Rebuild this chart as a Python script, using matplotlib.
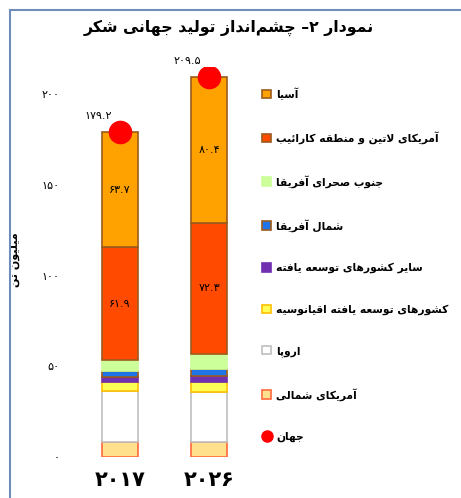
import re
import numpy as np
import matplotlib
matplotlib.use('Agg')
import matplotlib.pyplot as plt
from matplotlib.patches import Rectangle, Patch
from matplotlib.lines import Line2D

plt.rcParams['font.family'] = ['DejaVu Sans']

# ------------------------------------------------------------
# Data (million tonnes), stacked from the bottom up
# ------------------------------------------------------------
years = ['۲۰۱۷', '۲۰۲۶']
north_america = [8.3, 8.5]
europe = [28.0, 27.5]
oceania_dev = [5.2, 5.5]
other_dev = [2.8, 3.0]
north_africa = [3.0, 4.0]
sub_saharan = [6.3, 8.3]
latin_america = [61.9, 72.3]
asia = [63.7, 80.4]
world = [179.2, 209.5]

latin_labels = ['۶۱.۹', '۷۲.۳']
asia_labels = ['۶۳.۷', '۸۰.۴']
world_labels = ['۱۷۹.۲', '۲۰۹.۵']

yticks = [0, 50, 100, 150, 200]
ytick_labels = ['۰', '۵۰', '۱۰۰', '۱۵۰', '۲۰۰']

title = 'نمودار ۲– چشم\u200cانداز تولید جهانی شکر'
ylabel = 'میلیون تن'

# ------------------------------------------------------------
# Minimal Persian shaping: matplotlib has no complex text layout,
# so pick presentation forms by hand and reverse to visual order
# ------------------------------------------------------------
DUAL = {'ب': 0xFE8F, 'پ': 0xFB56, 'ت': 0xFE95, 'ث': 0xFE99, 'ج': 0xFE9D,
        'چ': 0xFB7A, 'ح': 0xFEA1, 'خ': 0xFEA5, 'س': 0xFEB1, 'ش': 0xFEB5,
        'ص': 0xFEB9, 'ض': 0xFEBD, 'ط': 0xFEC1, 'ظ': 0xFEC5, 'ع': 0xFEC9,
        'غ': 0xFECD, 'ف': 0xFED1, 'ق': 0xFED5, 'ک': 0xFB8E, 'گ': 0xFB92,
        'ل': 0xFEDD, 'م': 0xFEE1, 'ن': 0xFEE5, 'ه': 0xFEE9, 'ی': 0xFBFC,
        'ئ': 0xFE89}
RIGHT = {'ا': 0xFE8D, 'آ': 0xFE81, 'أ': 0xFE83, 'د': 0xFEA9, 'ذ': 0xFEAB,
         'ر': 0xFEAD, 'ز': 0xFEAF, 'ژ': 0xFB8A, 'و': 0xFEED}
LAM_ALEF = {'ا': 0xFEFB, 'آ': 0xFEF5, 'أ': 0xFEF7}


def shape(s):
    s = s.replace('ي', 'ی').replace('ك', 'ک')
    out = []
    prev = None
    i = 0
    while i < len(s):
        c = s[i]
        nxt = s[i + 1] if i + 1 < len(s) else ''
        pj = prev in DUAL
        if c == 'ل' and nxt in LAM_ALEF:
            out.append(chr(LAM_ALEF[nxt] + (1 if pj else 0)))
            prev = 'ا'
            i += 2
            continue
        if c in DUAL:
            nj = nxt in DUAL or nxt in RIGHT
            form = (3 if nj else 1) if pj else (2 if nj else 0)
            out.append(chr(DUAL[c] + form))
        elif c in RIGHT:
            out.append(chr(RIGHT[c] + (1 if pj else 0)))
        elif c != '\u200c':
            out.append(c)
        prev = c if (c in DUAL or c in RIGHT) else None
        i += 1
    runs = re.findall(r'[0-9۰-۹.]+|[^0-9۰-۹.]+', ''.join(out))
    return ''.join(r if re.match(r'[0-9۰-۹]', r) else r[::-1]
                   for r in reversed(runs))


# ------------------------------------------------------------
# Figure
# ------------------------------------------------------------
fig = plt.figure(figsize=(4.61, 4.98), dpi=100)
fig.patches.append(Rectangle((10 / 461, -0.1), 1.2, 1.08,
                             transform=fig.transFigure, fill=False,
                             edgecolor='#6F8DB8', linewidth=1.5))

ax = fig.add_axes([0.1475, 0.0823, 0.395, 0.7836])
x = np.arange(len(years))
w = 0.404

series = [
    (north_america, 'آمریکای شمالی', '#FFE08C', '#FF6A3D'),
    (europe, 'اروپا', '#FFFFFF', '#BFBFBF'),
    (oceania_dev, 'کشورهای توسعه یافته اقیانوسیه', '#FFFF55', '#FFC000'),
    (other_dev, 'سایر کشورهای توسعه یافته', '#7030B0', '#7030B0'),
    (north_africa, 'شمال آفریقا', '#1F75E8', '#9C5B1E'),
    (sub_saharan, 'جنوب صحرای آفریقا', '#CCFF99', '#CCFF99'),
    (latin_america, 'آمریکای لاتین و منطقه کارائیب', '#FF4A00', '#9C5B1E'),
    (asia, 'آسیا', '#FFA200', '#9C5B1E'),
]

bottom = np.zeros(len(years))
handles = []
for vals, name, fc, ec in series:
    ax.bar(x, vals, w, bottom=bottom, color=fc, edgecolor=ec, linewidth=1.2)
    handles.append(Patch(facecolor=fc, edgecolor=ec, linewidth=1.2,
                         label=shape(name)))
    bottom += np.array(vals)

# value labels inside the two big segments
lat_mid = np.array(north_america) + europe + oceania_dev + other_dev + \
    north_africa + sub_saharan + np.array(latin_america) / 2
asia_mid = lat_mid + np.array(latin_america) / 2 + np.array(asia) / 2
for i in range(len(years)):
    ax.text(x[i], lat_mid[i], latin_labels[i], ha='center', va='center',
            fontsize=8)
    ax.text(x[i], asia_mid[i], asia_labels[i], ha='center', va='center',
            fontsize=8)

# world totals
ax.plot(x, world, 'o', color='#FF0000', markersize=16, linestyle='none',
        zorder=5)
for i in range(len(years)):
    ax.annotate(world_labels[i], (x[i], world[i]), xytext=(-16, 11.5),
                textcoords='offset points', ha='center', va='center',
                fontsize=8)
handles.reverse()
handles.append(Line2D([], [], marker='o', color='#FF0000', linestyle='none',
                      markersize=8, label=shape('جهان')))

ax.set_xlim(-0.584, 1.46)
ax.set_ylim(0, 215)
ax.set_yticks(yticks)
ax.set_yticklabels(ytick_labels, fontsize=8)
ax.set_xticks(x)
ax.set_xticklabels(years, fontsize=15, fontweight='bold')
ax.tick_params(axis='both', length=0)
ax.tick_params(axis='y', pad=6)
ax.tick_params(axis='x', pad=9)
for s in ax.spines.values():
    s.set_visible(False)

ax.set_ylabel(shape(ylabel), fontsize=8, fontweight='bold')
ax.yaxis.set_label_coords(-0.264, 0.505)

fig.text(0.497, 1 - 28 / 498, shape(title), ha='center', va='center',
         fontsize=11.3, fontweight='bold')

fig.legend(handles=handles, loc='upper left',
           bbox_to_anchor=(257 / 461, 1 - 82 / 498), frameon=False,
           prop={'weight': 'bold', 'size': 7.7},
           handlelength=0.85, handleheight=0.85, handletextpad=0.45,
           labelspacing=2.9, borderpad=0)

fig.savefig('out.png', dpi=100)
